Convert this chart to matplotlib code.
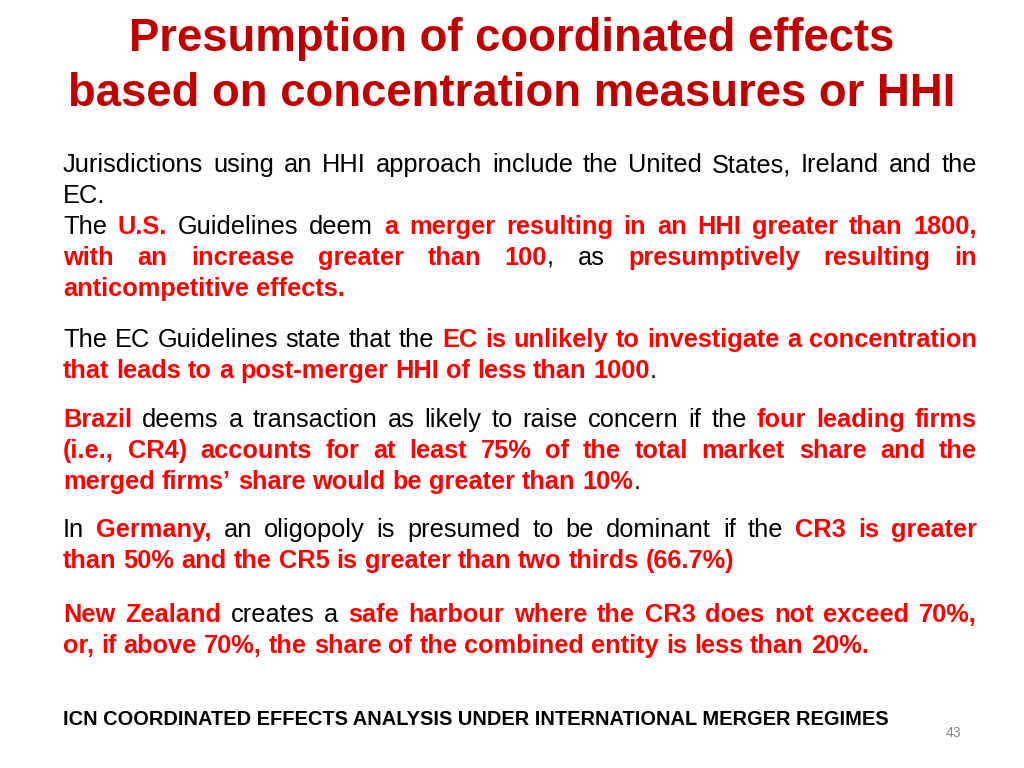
import matplotlib
matplotlib.use("Agg")
import matplotlib.pyplot as plt

W, H = 1024, 768
TITLE = ["Presumption of coordinated effects", "based on concentration measures or HHI"]
K, R = "k", "r"  # black regular, red bold
PARAS = [
    [[("Jurisdictions using an HHI approach include the United States, Ireland and the", K)],
     [("EC.", K)],
     [("The ", K), ("U.S.", R), (" Guidelines deem ", K), ("a merger resulting in an HHI greater than 1800,", R)],
     [("with an increase greater than 100", R), (", as ", K), ("presumptively resulting in", R)],
     [("anticompetitive effects.", R)]],
    [[("The EC Guidelines state that the ", K), ("EC is unlikely to investigate a concentration", R)],
     [("that leads to a post-merger HHI of less than 1000", R), (".", K)]],
    [[("Brazil", R), (" deems a transaction as likely to raise concern if the ", K), ("four leading firms", R)],
     [("(i.e., CR4) accounts for at least 75% of the total market share and the", R)],
     [("merged firms\u2019 share would be greater than 10%", R), (".", K)]],
    [[("In ", K), ("Germany,", R), (" an oligopoly is presumed to be dominant if the ", K), ("CR3 is greater", R)],
     [("than 50% and the CR5 is greater than two thirds (66.7%)", R)]],
    [[("New Zealand", R), (" creates a ", K), ("safe harbour where the CR3 does not exceed 70%,", R)],
     [("or, if above 70%, the share of the combined entity is less than 20%.", R)]],
]
LINE_Y = [[163, 194, 225, 256, 287], [338, 369], [418, 449, 480], [528, 559], [613, 644]]
JUSTIFY = [[True, False, True, True, False], [True, False], [True, True, False], [True, False], [True, False]]
FOOTER = "ICN COORDINATED EFFECTS ANALYSIS UNDER INTERNATIONAL MERGER REGIMES"
PAGE = "43"

FONT = "Liberation Sans"
BODY_PT = 18.3
STY = {K: dict(color="black", fontweight="normal"), R: dict(color="#FF0000", fontweight="bold")}

fig = plt.figure(figsize=(W / 100, H / 100), dpi=100)
fig.patch.set_facecolor("white")
r = fig.canvas.get_renderer()

def fx(px): return px / W
def fy(py): return 1 - py / H

for t, y in zip(TITLE, [35, 90]):
    fig.text(0.5, fy(y + 16), t, ha="center", va="baseline", fontsize=32.8, fontweight="bold",
             color="#C00000", family=FONT)

def width(txt, st):
    t = fig.text(0, 0, txt, fontsize=BODY_PT, family=FONT, **STY[st])
    w = t.get_window_extent(r).width
    t.remove()
    return w

space = width("a a", K) - 2 * width("a", K)
L, Rt = 63, 977
for para, ys, js in zip(PARAS, LINE_Y, JUSTIFY):
    for line, y, j in zip(para, ys, js):
        words, cur = [], []
        for txt, st in line:
            parts = txt.split(" ")
            for i, p in enumerate(parts):
                if i > 0:
                    if cur: words.append(cur)
                    cur = []
                if p: cur.append((p, st))
        if cur: words.append(cur)
        ws = [[width(p, s) for p, s in w] for w in words]
        tot = sum(sum(w) for w in ws)
        gap = (Rt - L - tot) / (len(words) - 1) if (j and len(words) > 1) else space
        x = L
        for w, wl in zip(words, ws):
            for (p, s), pw in zip(w, wl):
                fig.text(fx(x), fy(y + 9), p, fontsize=BODY_PT, family=FONT, va="baseline", ha="left", **STY[s])
                x += pw
            x += gap

fig.text(fx(63), fy(725), FOOTER, fontsize=14.4, fontweight="bold", family=FONT, va="baseline", color="black")
fig.text(fx(953), fy(733), PAGE, fontsize=10, family=FONT, va="center", ha="center", color="#888888")
fig.savefig("out.png", dpi=100, facecolor="white")
